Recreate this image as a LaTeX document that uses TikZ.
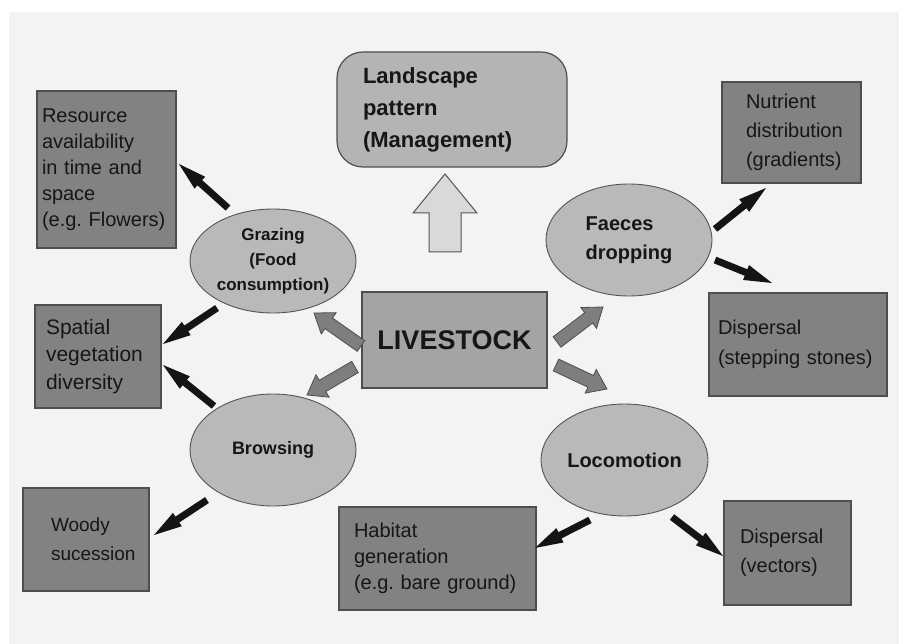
\documentclass[tikz,border=0pt]{standalone}
\usepackage{fontspec}
\setmainfont{Liberation Sans}
\usetikzlibrary{shapes.geometric,calc}
\frenchspacing
\definecolor{panel}{HTML}{F3F3F3}
\definecolor{boxfill}{HTML}{828282}
\definecolor{boxline}{HTML}{4E4E4E}
\definecolor{livefill}{HTML}{A4A4A4}
\definecolor{landfill}{HTML}{B4B4B4}
\definecolor{ellfill}{HTML}{B9B9B9}
\definecolor{ellline}{HTML}{555555}
\definecolor{upfill}{HTML}{D9D9D9}
\definecolor{grayarr}{HTML}{7E7E7E}
\definecolor{arrblack}{HTML}{141414}
\definecolor{txt}{HTML}{161616}
\tikzset{
  blk/.style n args={3}{to path={let \p1=(\tikztostart), \p2=(\tikztotarget),
      \p3=($(\p2)!#3!(\p1)$) in
      (\p1) -- ($(\p1)!#1!90:(\p2)$) -- ($(\p3)!#1!90:(\p2)$) -- ($(\p3)!#2!90:(\p2)$)
      -- (\p2) -- ($(\p3)!#2!-90:(\p2)$) -- ($(\p3)!#1!-90:(\p2)$)
      -- ($(\p1)!#1!-90:(\p2)$) -- cycle}},
  blackarr/.style={blk={3.5pt}{8pt}{28pt}, fill=arrblack},
  grayarrow/.style={blk={6.5pt}{13pt}{18pt}, fill=grayarr, draw=boxline, line width=0.8pt, line join=miter},
  uparrow/.style={blk={16pt}{32pt}{39pt}, fill=upfill, draw=ellline, line width=1pt},
  box/.style={rectangle, draw=boxline, fill=boxfill, line width=1.2pt, align=left,
      inner ysep=0pt, text=txt, font=\fontsize{20}{26}\selectfont},
  ell/.style={ellipse, draw=ellline, fill=ellfill, line width=0.9pt, inner sep=0pt,
      text=txt, minimum width=166pt, minimum height=112pt},
}
\begin{document}
\begin{tikzpicture}[x=1pt,y=-1pt]
\useasboundingbox (0,0) rectangle (899,644);
\fill[white] (0,0) rectangle (899,644);
\fill[panel] (9,12) rectangle (899,644);

% boxes
\node[box, minimum width=139pt, minimum height=157pt, inner xsep=5pt, text width=129pt]
  (res) at (106.5,169.5) {Resource\\availability\\in time and\\space\\(e.g. Flowers)};
\node[box, minimum width=139pt, minimum height=101pt, inner xsep=24pt, text width=91pt,
  font=\fontsize{20}{29}\selectfont]
  (nut) at (791.5,132.5) {Nutrient\\distribution\\(gradients)};
\node[box, minimum width=178pt, minimum height=103pt, inner xsep=9pt, text width=160pt,
  font=\fontsize{20}{30}\selectfont]
  (disp1) at (798,344.5) {Dispersal\\(stepping stones)};
\node[box, minimum width=126pt, minimum height=103pt, inner xsep=11pt, text width=104pt,
  font=\fontsize{21}{27.5}\selectfont]
  (spat) at (98,356.5) {Spatial\\vegetation\\diversity};
\node[box, minimum width=126pt, minimum height=103pt, inner xsep=28pt, text width=70pt,
  font=\fontsize{19}{29}\selectfont]
  (wood) at (86,539.5) {Woody\\sucession};
\node[box, minimum width=197pt, minimum height=103pt, inner xsep=15pt, text width=167pt]
  (hab) at (437.5,558.5) {Habitat\\generation\\(e.g. bare ground)};
\node[box, minimum width=127pt, minimum height=104pt, inner xsep=16pt, text width=95pt,
  font=\fontsize{20}{29}\selectfont]
  (disp2) at (787.5,553) {Dispersal\\(vectors)};
\node[box, fill=livefill, minimum width=185pt, minimum height=96pt, align=center,
  font=\bfseries\fontsize{27}{30}\selectfont]
  (live) at (454.5,340) {LIVESTOCK};
\node[box, fill=landfill, rounded corners=26pt, minimum width=230pt, minimum height=115pt,
  inner xsep=26pt, text width=178pt, font=\bfseries\fontsize{22}{32}\selectfont]
  (land) at (452,109.5) {Landscape\\pattern\\(Management)};

% ellipses
\node[ell, minimum height=104pt, align=center, font=\bfseries\fontsize{17}{25}\selectfont]
  (graz) at (273,261) {Grazing\\(Food\\consumption)};
\node[ell, align=left, font=\bfseries\fontsize{20}{29}\selectfont]
  (faec) at (629,240) {Faeces\\dropping};
\node[ell, align=center, font=\bfseries\fontsize{18}{22}\selectfont]
  (brow) at (273,450) {Browsing};
\node[ell, minimum width=167pt, align=center, font=\bfseries\fontsize{20}{24}\selectfont]
  (loco) at (624.5,460) {Locomotion};

% arrow end points
\coordinate (u1) at (445,252);  \coordinate (u2) at (445,174);
\coordinate (g1) at (361,346);  \coordinate (g2) at (314,313);
\coordinate (g3) at (355,367);  \coordinate (g4) at (307,395);
\coordinate (g5) at (557,342);  \coordinate (g6) at (603,307);
\coordinate (g7) at (556,365);  \coordinate (g8) at (607,389);
\coordinate (a1) at (228,208);  \coordinate (b1) at (179,164);
\coordinate (a2) at (217,308);  \coordinate (b2) at (163,344);
\coordinate (a3) at (214,406);  \coordinate (b3) at (163,365);
\coordinate (a4) at (207,500);  \coordinate (b4) at (154,535);
\coordinate (a5) at (715,229);  \coordinate (b5) at (766,188);
\coordinate (a6) at (715,260);  \coordinate (b6) at (772,283);
\coordinate (a7) at (590,520);  \coordinate (b7) at (535,548);
\coordinate (a8) at (672,517);  \coordinate (b8) at (723,556);

% up arrow live -> landscape
\path[uparrow] (u1) to (u2);
% gray block arrows from LIVESTOCK
\path[grayarrow] (g1) to (g2);
\path[grayarrow] (g3) to (g4);
\path[grayarrow] (g5) to (g6);
\path[grayarrow] (g7) to (g8);
% black arrows
\path[blackarr] (a1) to (b1);
\path[blackarr] (a2) to (b2);
\path[blackarr] (a3) to (b3);
\path[blackarr] (a4) to (b4);
\path[blackarr] (a5) to (b5);
\path[blackarr] (a6) to (b6);
\path[blackarr] (a7) to (b7);
\path[blackarr] (a8) to (b8);
\end{tikzpicture}
\end{document}
